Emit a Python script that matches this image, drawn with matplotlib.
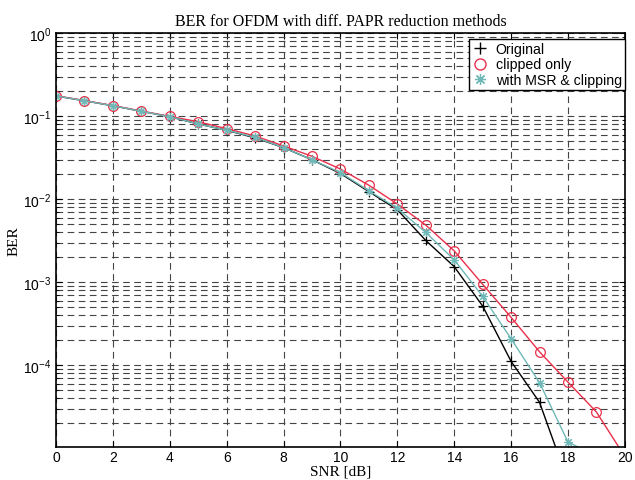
import numpy as np
import matplotlib
matplotlib.use("Agg")
import matplotlib.pyplot as plt
from matplotlib.lines import Line2D

plt.rcParams["mathtext.fontset"] = "custom"
plt.rcParams["mathtext.rm"] = "Liberation Sans"
plt.rcParams["mathtext.it"] = "Liberation Sans"

nan = np.nan
snr = list(range(21))
ber_original = [0.176, 0.154, 0.134, 0.115, 0.099, 0.081, 0.068, 0.055, 0.042, 0.030,
                0.0205, 0.0124, 0.0075, 0.0032, 0.00155, 0.00052, 0.000112, 3.6e-5, 4e-6, nan, nan]
ber_clipped = [0.177, 0.155, 0.135, 0.116, 0.100, 0.086, 0.071, 0.058, 0.044, 0.033,
               0.0232, 0.0148, 0.0088, 0.0049, 0.0024, 0.00095, 0.00038, 0.000146, 6.3e-5, 2.75e-5, 8e-6]
ber_msr = [0.176, 0.154, 0.134, 0.115, 0.099, 0.081, 0.068, 0.056, 0.042, 0.030,
           0.021, 0.0127, 0.0078, 0.0040, 0.00187, 0.00068, 0.00021, 6.2e-5, 1.2e-5, 8e-6, nan]
labels = ["Original", "clipped only", "with MSR & clipping"]

black = "black"
red = "#e8304a"
teal = "#6fb8b8"
asterisk = (8, 2, 0)

fig = plt.figure(figsize=(6.35, 4.81), dpi=100)
ax = fig.add_axes([0.0882, 0.0692, 0.8958, 0.8595])

ax.semilogy(snr, ber_original, color=black, lw=1.0, marker="+", ms=7, mew=0.9)
ax.semilogy(snr, ber_clipped, color=red, lw=1.0, marker="o", ms=7, mfc="none", mew=0.9)
ax.semilogy(snr, ber_msr, color=teal, lw=1.0, marker=asterisk, ms=6.5, mew=0.8)

ax.set_xlim(0, 20)
ax.set_ylim(1.05e-5, 1)
ax.set_xticks(range(0, 21, 2))
ax.set_yticks([1e0, 1e-1, 1e-2, 1e-3, 1e-4])
ax.set_yticklabels([r"$10^{0}$", r"$10^{-1}$", r"$10^{-2}$", r"$10^{-3}$", r"$10^{-4}$"])
ax.yaxis.set_minor_locator(matplotlib.ticker.LogLocator(base=10, subs=np.arange(2, 10)))
ax.yaxis.set_minor_formatter(matplotlib.ticker.NullFormatter())

grid_kw = dict(color="#444444", linestyle=(0, (6, 4)), linewidth=0.8)
ax.grid(True, which="major", axis="both", **grid_kw)
ax.grid(True, which="minor", axis="y", **grid_kw)
ax.set_axisbelow(True)

ax.tick_params(which="both", direction="in", top=True, right=True, labelsize=10)
ax.tick_params(which="major", length=4)
ax.tick_params(which="minor", length=2)
ax.tick_params(axis="x", pad=2.5)
for lab in ax.get_xticklabels():
    lab.set_fontfamily("Liberation Sans")
for s in ax.spines.values():
    s.set_linewidth(1.2)

ax.set_title("BER for OFDM with diff. PAPR reduction methods",
             fontfamily="Liberation Serif", fontsize=11.5, pad=6)
ax.set_xlabel("SNR [dB]", fontfamily="Liberation Serif", fontsize=11, labelpad=0)
ax.set_ylabel("BER", fontfamily="Liberation Serif", fontsize=11, labelpad=2)

handles = [
    Line2D([], [], color=black, ls="none", marker="+", ms=9, mew=1.0),
    Line2D([], [], color=red, ls="none", marker="o", ms=8, mfc="none", mew=1.0),
    Line2D([], [], color=teal, ls="none", marker=asterisk, ms=8, mew=0.9),
]
leg = ax.legend(handles, labels, loc="upper right", bbox_to_anchor=(1.0, 0.987),
                borderaxespad=0, fancybox=False, edgecolor="black", framealpha=1,
                prop={"family": "Liberation Sans", "size": 10.2}, handlelength=1.1,
                handletextpad=0.55, borderpad=0.22, labelspacing=0.12)
leg.get_frame().set_linewidth(1.0)

fig.savefig("out.png", dpi=100)
